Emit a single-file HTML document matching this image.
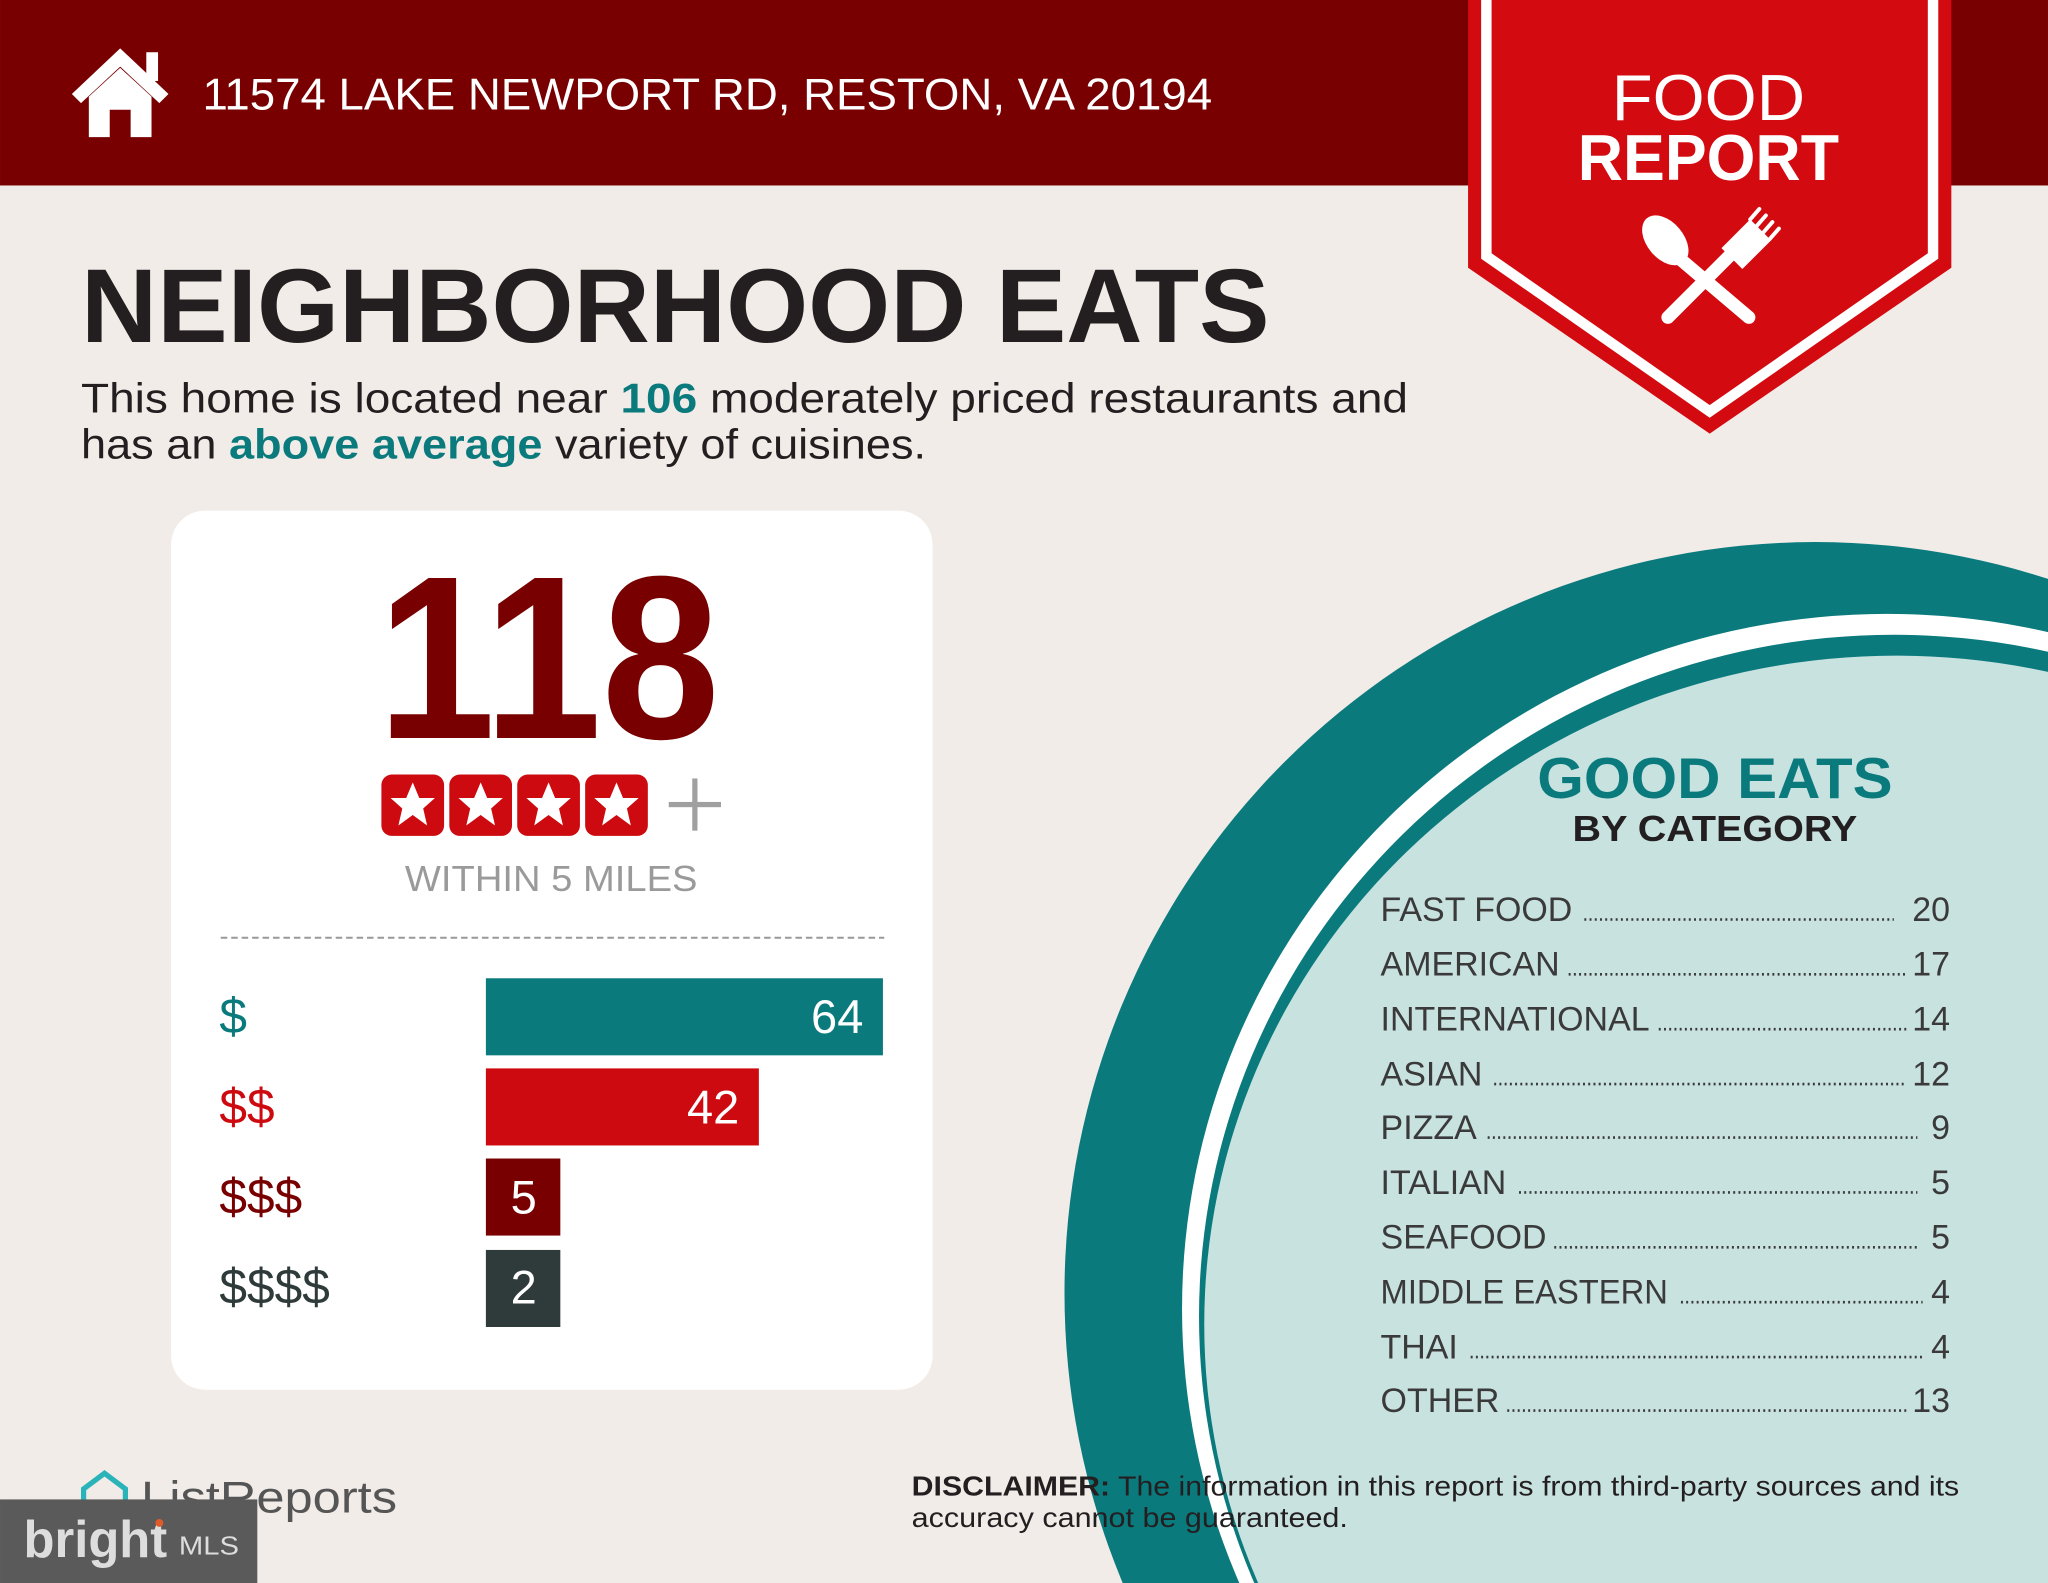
<!DOCTYPE html>
<html><head><meta charset="utf-8"><style>
html,body{margin:0;padding:0;background:#f1ece8;width:2048px;height:1583px;overflow:hidden;}
svg{display:block;}
text{font-family:"Liberation Sans",sans-serif;}
</style></head><body>
<svg width="2048" height="1583" viewBox="0 0 1568 1212" xmlns="http://www.w3.org/2000/svg">
<rect width="1568" height="1212" fill="#f1ece8"/>
<!-- big circle -->
<circle cx="1390" cy="990" r="575" fill="#0b7a7d"/>
<ellipse cx="1445" cy="1002" rx="540" ry="532" fill="#ffffff"/>
<ellipse cx="1450" cy="1008" rx="532" ry="522" fill="#0b7a7d"/>
<ellipse cx="1452" cy="1014" rx="530" ry="512" fill="#c8e2e0"/>
<!-- header -->
<rect x="0" y="0" width="1568" height="142" fill="#780000"/>
<g fill="#fff">
<polygon points="55,72 92,37 129,72 122,79 92,51 62,79"/>
<rect x="112" y="40" width="9" height="22"/>
<polygon points="68,74 92,52 116,74 116,105 100,105 100,84 84,84 84,105 68,105"/>
</g>
<text x="155" y="84" font-size="34" fill="#fff" textLength="773" lengthAdjust="spacingAndGlyphs">11574 LAKE NEWPORT RD, RESTON, VA 20194</text>
<!-- banner -->
<polygon points="1124,0 1494,0 1494,205 1309,332 1124,205" fill="#d30a0f"/>
<polyline points="1138,0 1138,196 1309,315 1480,196 1480,0" fill="none" stroke="#fff" stroke-width="8"/>
<text x="1308" y="92" font-size="50" fill="#fff" text-anchor="middle" textLength="148" lengthAdjust="spacingAndGlyphs">FOOD</text>
<text x="1308" y="138" font-size="50" fill="#fff" text-anchor="middle" font-weight="bold" textLength="200" lengthAdjust="spacingAndGlyphs">REPORT</text>
<g fill="#fff" stroke="#fff" stroke-linecap="round">
<line x1="1286" y1="198" x2="1339" y2="243" stroke-width="10"/>
<ellipse cx="1275" cy="184" rx="14" ry="22" transform="rotate(-40 1275 184)" stroke="none"/>
<line x1="1330" y1="190" x2="1277" y2="243" stroke-width="10"/>
<path d="M1318,190 L1340,168 L1356,184 L1334,206 Z" stroke="none"/>
<line x1="1340" y1="168" x2="1347" y2="160" stroke-width="3"/>
<line x1="1345" y1="173" x2="1352" y2="165" stroke-width="3"/>
<line x1="1350" y1="178" x2="1357" y2="170" stroke-width="3"/>
<line x1="1355" y1="183" x2="1362" y2="175" stroke-width="3"/>
</g>
<!-- title -->
<text x="62" y="262" font-size="80" font-weight="bold" fill="#231f20" textLength="910" lengthAdjust="spacingAndGlyphs">NEIGHBORHOOD EATS</text>
<text x="62" y="316" font-size="32" fill="#231f20" textLength="1016" lengthAdjust="spacingAndGlyphs">This home is located near <tspan font-weight="bold" fill="#0b7a7d">106</tspan> moderately priced restaurants and</text>
<text x="62" y="351" font-size="32" fill="#231f20" textLength="647" lengthAdjust="spacingAndGlyphs">has an <tspan font-weight="bold" fill="#0b7a7d">above average</tspan> variety of cuisines.</text>
<!-- card -->
<rect x="131" y="391" width="583" height="673" rx="26" fill="#fff"/>
<text x="420" y="565" font-size="178" font-weight="bold" fill="#780000" text-anchor="middle" textLength="262" lengthAdjust="spacingAndGlyphs">118</text>
<g>
<rect x="292" y="593" width="48" height="47" rx="8" fill="#cc0a0f"/>
<rect x="344" y="593" width="48" height="47" rx="8" fill="#cc0a0f"/>
<rect x="396" y="593" width="48" height="47" rx="8" fill="#cc0a0f"/>
<rect x="448" y="593" width="48" height="47" rx="8" fill="#cc0a0f"/>
<g fill="#fff">
<polygon transform="translate(316,617)" points="0,-18 5,-6 17,-6 8,2 11,15 0,7 -11,15 -8,2 -17,-6 -5,-6"/>
<polygon transform="translate(368,617)" points="0,-18 5,-6 17,-6 8,2 11,15 0,7 -11,15 -8,2 -17,-6 -5,-6"/>
<polygon transform="translate(420,617)" points="0,-18 5,-6 17,-6 8,2 11,15 0,7 -11,15 -8,2 -17,-6 -5,-6"/>
<polygon transform="translate(472,617)" points="0,-18 5,-6 17,-6 8,2 11,15 0,7 -11,15 -8,2 -17,-6 -5,-6"/>
</g>
<rect x="512" y="614" width="40" height="4" fill="#a0a0a0"/>
<rect x="530" y="596" width="4" height="40" fill="#a0a0a0"/>
</g>
<text x="422" y="682" font-size="28" fill="#9a9a9a" text-anchor="middle" textLength="224" lengthAdjust="spacingAndGlyphs">WITHIN 5 MILES</text>
<line x1="169" y1="718" x2="677" y2="718" stroke="#999" stroke-width="1.5" stroke-dasharray="5,3"/>
<text x="168" y="791" font-size="38" fill="#0b7a7d">$</text>
<rect x="372" y="749" width="304" height="59" fill="#0b7a7d"/>
<text x="661" y="791" font-size="36" fill="#fff" text-anchor="end">64</text>
<text x="168" y="860" font-size="38" fill="#cc0a0f">$$</text>
<rect x="372" y="818" width="209" height="59" fill="#cc0a0f"/>
<text x="566" y="860" font-size="36" fill="#fff" text-anchor="end">42</text>
<text x="168" y="929" font-size="38" fill="#780000">$$$</text>
<rect x="372" y="887" width="57" height="59" fill="#780000"/>
<text x="401" y="929" font-size="36" fill="#fff" text-anchor="middle">5</text>
<text x="168" y="998" font-size="38" fill="#2f3b3b">$$$$</text>
<rect x="372" y="957" width="57" height="59" fill="#2f3b3b"/>
<text x="401" y="998" font-size="36" fill="#fff" text-anchor="middle">2</text>
<!-- good eats -->
<text x="1313" y="611" font-size="44" font-weight="bold" fill="#0b7a7d" text-anchor="middle" textLength="272" lengthAdjust="spacingAndGlyphs">GOOD EATS</text>
<text x="1313" y="644" font-size="28" font-weight="bold" fill="#231f20" text-anchor="middle" textLength="218" lengthAdjust="spacingAndGlyphs">BY CATEGORY</text>
<g font-size="26" fill="#3a3a3a">
<text x="1057" y="705">FAST FOOD</text><text x="1493" y="705" text-anchor="end">20</text>
<text x="1057" y="747">AMERICAN</text><text x="1493" y="747" text-anchor="end">17</text>
<text x="1057" y="789">INTERNATIONAL</text><text x="1493" y="789" text-anchor="end">14</text>
<text x="1057" y="831">ASIAN</text><text x="1493" y="831" text-anchor="end">12</text>
<text x="1057" y="872">PIZZA</text><text x="1493" y="872" text-anchor="end">9</text>
<text x="1057" y="914">ITALIAN</text><text x="1493" y="914" text-anchor="end">5</text>
<text x="1057" y="956">SEAFOOD</text><text x="1493" y="956" text-anchor="end">5</text>
<text x="1057" y="998" textLength="220" lengthAdjust="spacingAndGlyphs">MIDDLE EASTERN</text><text x="1493" y="998" text-anchor="end">4</text>
<text x="1057" y="1040">THAI</text><text x="1493" y="1040" text-anchor="end">4</text>
<text x="1057" y="1081">OTHER</text><text x="1493" y="1081" text-anchor="end">13</text>
</g>
<g stroke="#3a3a3a" stroke-width="2" stroke-dasharray="1.5,2.5">
<line x1="1213" y1="704" x2="1450" y2="704"/>
<line x1="1201" y1="746" x2="1460" y2="746"/>
<line x1="1270" y1="788" x2="1460" y2="788"/>
<line x1="1144" y1="830" x2="1459" y2="830"/>
<line x1="1139" y1="871" x2="1468" y2="871"/>
<line x1="1163" y1="913" x2="1468" y2="913"/>
<line x1="1190" y1="955" x2="1468" y2="955"/>
<line x1="1287" y1="997" x2="1472" y2="997"/>
<line x1="1126" y1="1039" x2="1472" y2="1039"/>
<line x1="1154" y1="1080" x2="1460" y2="1080"/>
</g>
<!-- disclaimer -->
<text x="698" y="1145" font-size="21" fill="#231f20" textLength="802" lengthAdjust="spacingAndGlyphs"><tspan font-weight="bold">DISCLAIMER:</tspan> The information in this report is from third-party sources and its</text>
<text x="698" y="1169" font-size="21" fill="#231f20" textLength="334" lengthAdjust="spacingAndGlyphs">accuracy cannot be guaranteed.</text>
<!-- listreports -->
<path d="M64,1160 L64,1140 L80,1128 L96,1140 L96,1160" fill="none" stroke="#2ab3b8" stroke-width="4"/>
<text x="108" y="1158" font-size="34" fill="#555" textLength="196" lengthAdjust="spacingAndGlyphs">ListReports</text>
<rect x="0" y="1148" width="197" height="64" fill="#5a5a5a"/>
<text x="18" y="1192" font-size="40" font-family="Liberation Serif, serif" font-weight="bold" fill="#ddd" textLength="110" lengthAdjust="spacingAndGlyphs">bright</text>
<text x="137" y="1190" font-size="20" fill="#ddd" textLength="46" lengthAdjust="spacingAndGlyphs">MLS</text>
<circle cx="122" cy="1166" r="3" fill="#e05a2a"/>
</svg>
</body></html>
